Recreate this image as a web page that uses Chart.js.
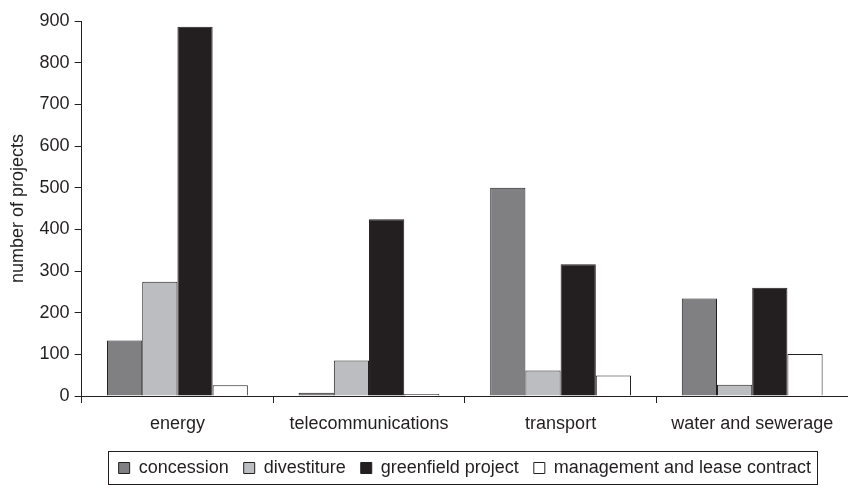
<!DOCTYPE html>
<html>
<head>
<meta charset="utf-8">
<script src="https://cdn.jsdelivr.net/npm/chart.js@4.4.0/dist/chart.umd.min.js"></script>
<style>
  html, body { margin: 0; padding: 0; background: #fff; }
  #wrap { width: 848px; height: 485px; }
</style>
</head>
<body>
<div id="wrap"><canvas id="projectsChart"></canvas></div>
<script>
// Categories and series
const sectors = ['energy', 'telecommunications', 'transport', 'water and sewerage'];
const concession = [133, 8, 500, 234];
const divestiture = [274, 85, 61, 27];
const greenfield = [886, 424, 316, 260];
const managementLease = [26, 5, 49, 101];
const yTicks = [0, 100, 200, 300, 400, 500, 600, 700, 800, 900];

const ink = '#231f20';
const fontFamily = '"Liberation Sans", Arial, sans-serif';

// draws a thin frame round the legend items
const legendFrame = {
  id: 'legendFrame',
  afterDraw(chart) {
    const lg = chart.legend;
    if (!lg || !lg.legendHitBoxes || !lg.legendHitBoxes.length) return;
    const boxes = lg.legendHitBoxes;
    const left = Math.min(...boxes.map(b => b.left)) - 11;
    const right = Math.max(...boxes.map(b => b.left + b.width)) + 6;
    const top = Math.min(...boxes.map(b => b.top)) - 8;
    const bottom = Math.max(...boxes.map(b => b.top + b.height)) + 7;
    const ctx = chart.ctx;
    ctx.save();
    ctx.strokeStyle = ink;
    ctx.lineWidth = 1;
    ctx.strokeRect(Math.round(left) + 0.5, Math.round(top) + 0.5, Math.round(right - left), Math.round(bottom - top));
    ctx.restore();
  }
};

const ctx = document.getElementById('projectsChart').getContext('2d');
new Chart(ctx, {
  type: 'bar',
  data: {
    labels: sectors,
    datasets: [
      { label: 'concession', data: concession, backgroundColor: '#808083' },
      { label: 'divestiture', data: divestiture, backgroundColor: '#bcbdc0' },
      { label: 'greenfield project', data: greenfield, backgroundColor: ink },
      { label: 'management and lease contract', data: managementLease, backgroundColor: '#ffffff' }
    ]
  },
  options: {
    responsive: true,
    maintainAspectRatio: false,
    animation: false,
    datasets: {
      bar: {
        borderColor: ink,
        borderWidth: 1,
        categoryPercentage: 0.735,
        barPercentage: 1
      }
    },
    layout: { padding: { top: 21, right: 0, bottom: -2, left: 7 } },
    scales: {
      x: {
        afterFit: scale => { scale.height = 48; },
        grid: {
          offset: true,
          drawOnChartArea: false,
          drawTicks: true,
          tickLength: 7,
          color: ink
        },
        border: { display: true, color: ink, width: 1 },
        ticks: { color: ink, font: { family: fontFamily, size: 18 }, padding: 10 }
      },
      y: {
        min: 0,
        max: 900,
        afterBuildTicks: axis => { axis.ticks = yTicks.map(v => ({ value: v })); },
        grid: {
          drawOnChartArea: false,
          drawTicks: true,
          tickLength: 7,
          color: ink
        },
        border: { display: true, color: ink, width: 1 },
        ticks: { color: ink, font: { family: fontFamily, size: 18 }, padding: 5 },
        title: {
          display: true,
          text: 'number of projects',
          color: ink,
          font: { family: fontFamily, size: 18 },
          padding: { top: 0, bottom: 6 }
        }
      }
    },
    plugins: {
      legend: {
        position: 'bottom',
        fullSize: false,
        labels: {
          color: ink,
          boxWidth: 11,
          boxHeight: 11,
          padding: 15,
          font: { family: fontFamily, size: 18 },
          generateLabels: chart => chart.data.datasets.map((ds, i) => ({
            text: ds.label,
            fillStyle: ds.backgroundColor,
            strokeStyle: ink,
            lineWidth: 1,
            fontColor: ink,
            datasetIndex: i
          }))
        }
      },
      tooltip: { enabled: false }
    }
  },
  plugins: [legendFrame]
});
</script>
</body>
</html>
